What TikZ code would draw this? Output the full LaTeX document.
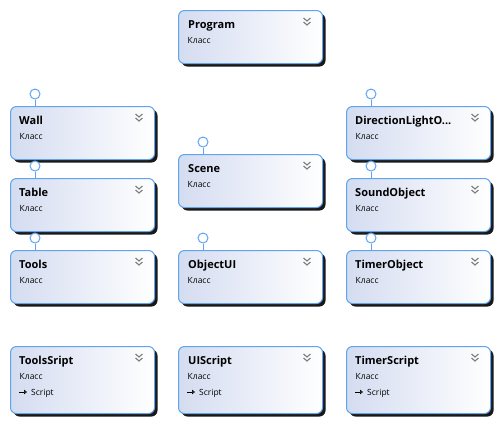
\documentclass[tikz,border=0pt]{standalone}
\usepackage{fontspec}
\setmainfont{Open Sans}
\usetikzlibrary{shadows,arrows.meta}

\definecolor{boxblue}{RGB}{96,164,240}
\definecolor{boxfill}{RGB}{212,220,240}
\definecolor{chevgray}{RGB}{125,125,125}

\tikzset{
  classbox/.style={draw=boxblue, line width=1pt, rounded corners=6pt,
    left color=boxfill, right color=white, minimum width=144pt,
    minimum height=53pt, anchor=north west, inner sep=0pt,
    drop shadow={shadow xshift=3pt, shadow yshift=-3pt, fill=black!90, opacity=1}},
  scriptbox/.style={classbox, minimum height=67pt},
  ctitle/.style={anchor=base west, inner sep=0pt, font=\fontsize{11}{13}\selectfont\bfseries},
  ckind/.style={anchor=base west, inner sep=0pt, font=\fontsize{8.5}{10}\selectfont},
  lolli/.style={circle, draw=boxblue, fill=white, line width=1pt, minimum size=10pt, inner sep=0pt},
  stem/.style={draw=boxblue, line width=1pt},
  chev/.style={draw=chevgray, line width=1.1pt},
  inherit/.style={draw=black, line width=0.7pt, -{Triangle[open,length=3pt,width=4.5pt]}}
}

\begin{document}
\begin{tikzpicture}[x=1pt,y=-1pt]
  \useasboundingbox (0,0) rectangle (499,421);
  % class boxes
  \node[classbox] (prog) at (178,10) {};
  \node[classbox] (wall) at (10,106) {};
  \node[classbox] (table) at (10,178) {};
  \node[classbox] (tools) at (10,250) {};
  \node[scriptbox] (toolsscr) at (10,346) {};
  \node[classbox] (scene) at (178,154) {};
  \node[classbox] (objui) at (178,250) {};
  \node[scriptbox] (uiscr) at (178,346) {};
  \node[classbox] (dirlight) at (346,106) {};
  \node[classbox] (sound) at (346,178) {};
  \node[classbox] (timer) at (346,250) {};
  \node[scriptbox] (timerscr) at (346,346) {};
  % titles
  \node[ctitle] (progT) at ([shift={(10,18.5)}]prog.north west) {Program};
  \node[ctitle] (wallT) at ([shift={(9,18.5)}]wall.north west) {Wall};
  \node[ctitle] (tableT) at ([shift={(9,18.5)}]table.north west) {Table};
  \node[ctitle] (toolsT) at ([shift={(9,18.5)}]tools.north west) {Tools};
  \node[ctitle] (toolsscrT) at ([shift={(9,18.5)}]toolsscr.north west) {ToolsSript};
  \node[ctitle] (sceneT) at ([shift={(10,18.5)}]scene.north west) {Scene};
  \node[ctitle] (objuiT) at ([shift={(10,18.5)}]objui.north west) {ObjectUI};
  \node[ctitle] (uiscrT) at ([shift={(10,18.5)}]uiscr.north west) {UIScript};
  \node[ctitle] (dirlightT) at ([shift={(9,18.5)}]dirlight.north west) {DirectionLightO...};
  \node[ctitle] (soundT) at ([shift={(9,18.5)}]sound.north west) {SoundObject};
  \node[ctitle] (timerT) at ([shift={(9,18.5)}]timer.north west) {TimerObject};
  \node[ctitle] (timerscrT) at ([shift={(9,18.5)}]timerscr.north west) {TimerScript};
  % kind line and chevrons
  \foreach \b in {prog,wall,table,tools,toolsscr,scene,objui,uiscr,dirlight,sound,timer,timerscr} {
    \node[ckind] (\b K) at ([shift={(9.5,33)}]\b.north west) {Класс};
    \draw[chev] ([shift={(-19.5,8)}]\b.north east) -- ++(3.5,3) -- ++(3.5,-3);
    \draw[chev] ([shift={(-19.5,12)}]\b.north east) -- ++(3.5,3) -- ++(3.5,-3);
  }
  % base class line
  \foreach \b in {toolsscr,uiscr,timerscr} {
    \node[ckind] (\b S) at ([shift={(21,49)}]\b.north west) {Script};
    \draw[inherit] ([shift={(-12,-3)}]\b S.base west) -- ([shift={(-4,-3)}]\b S.base west);
  }
  % lollipops
  \foreach \b in {wall,table,tools,scene,objui,dirlight,sound,timer} {
    \node[lolli] (\b L) at ([shift={(25,-12)}]\b.north west) {};
    \draw[stem] (\b L) -- (\b L |- \b.north);
  }
\end{tikzpicture}
\end{document}
